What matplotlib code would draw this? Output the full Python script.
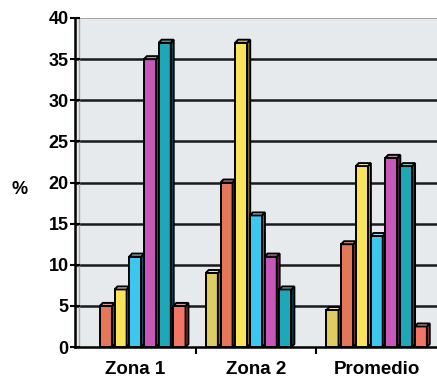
import numpy as np
import matplotlib
matplotlib.use("Agg")
import matplotlib.pyplot as plt
from matplotlib.patches import Polygon

categories = ["Zona 1", "Zona 2", "Promedio"]

# 7 series per group (left to right inside each group)
khaki = [0, 9, 4.5]
orange = [5, 20, 12.5]
yellow = [7, 37, 22]
cyan = [11, 16, 13.5]
magenta = [35, 11, 23]
teal = [37, 7, 22]
salmon = [5, 0, 2.5]

series = [khaki, orange, yellow, cyan, magenta, teal, salmon]
face_colors = ["#ddcc62", "#e37758", "#f9e35a", "#3cc8ee", "#c757b8", "#1ea7b9", "#f37563"]
side_colors = ["#968a35", "#97482f", "#b09c25", "#1d7e9c", "#7c2c73", "#0f5f6a", "#a2463a"]
top_colors = ["#eee3a0", "#f0a890", "#fbf0a0", "#9ee2f6", "#e0a0d8", "#7fcfda", "#f8aa9e"]

plt.rcParams['font.family'] = ['Liberation Sans', 'DejaVu Sans']

fig = plt.figure(figsize=(4.37, 3.81), dpi=100)
ax = fig.add_axes([75 / 437, 34 / 381, 362 / 437, 329 / 381])
ax.set_facecolor("#e6eaec")

x = np.arange(len(categories))
step = 0.122
width = 0.1
dx = 0.024
dy = 0.36
lw = 1.4

for i, vals in enumerate(series):
    pos = x + (i - 3) * step
    for p, v in zip(pos, vals):
        if v <= 0:
            continue
        l = p - width / 2
        r = p + width / 2
        ax.bar(p, v, width=width, color=face_colors[i], edgecolor="black",
               linewidth=lw, zorder=3)
        # side face
        ax.add_patch(Polygon([[r, 0], [r + dx, dy], [r + dx, v + dy], [r, v]],
                             closed=True, facecolor=side_colors[i],
                             edgecolor="black", linewidth=lw, zorder=3))
        # top face
        ax.add_patch(Polygon([[l, v], [l + dx, v + dy], [r + dx, v + dy], [r, v]],
                             closed=True, facecolor=top_colors[i],
                             edgecolor="black", linewidth=lw, zorder=3))

ax.set_xlim(-0.5, 2.5)
ax.set_ylim(0, 40)

for yv in range(5, 40, 5):
    ax.axhline(yv, color="#1a1a1a", linewidth=1.8, zorder=1)
ax.axhline(40, color="#9a9a9a", linewidth=1.2, zorder=1)
ax.axvline(-0.465, color="#a8a8a8", linewidth=1.0, zorder=1)

ax.set_yticks(range(0, 45, 5))
ax.set_yticklabels([str(v) for v in range(0, 45, 5)], fontsize=13, fontweight="bold")
ax.tick_params(axis="y", direction="inout", length=7, width=1.5, pad=1)

ax.set_xticks([0.5, 1.5])
ax.set_xticklabels([])
ax.tick_params(axis="x", direction="out", length=5, width=1.5)
for xi, name in zip(x, categories):
    ax.text(xi, -2.7, name, ha="center", va="center", fontsize=13.5,
            fontweight="bold", clip_on=False)

fig.text(20 / 437, 1 - 189 / 381, "%", ha="center", va="center",
         fontsize=13, fontweight="bold")

for s in ["top", "right"]:
    ax.spines[s].set_visible(False)
ax.spines["left"].set_linewidth(1.8)
ax.spines["bottom"].set_linewidth(1.8)

fig.savefig("out.png", dpi=100, facecolor="white")
